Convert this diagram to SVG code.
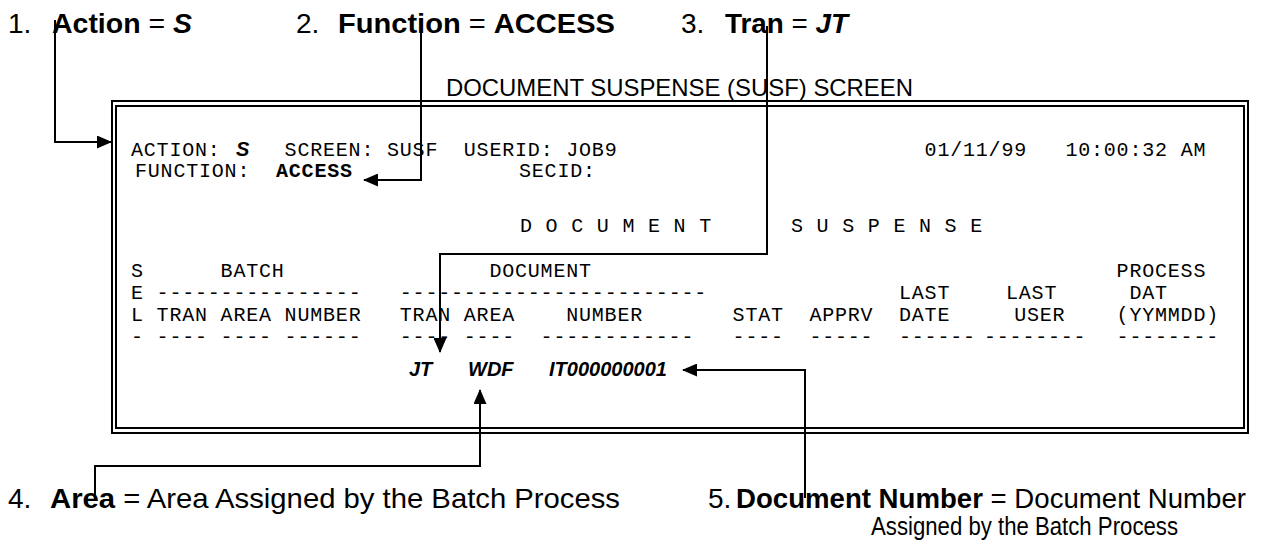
<svg xmlns="http://www.w3.org/2000/svg" width="1266" height="553" viewBox="0 0 1266 553">
<style>
.lbl{font-family:"Liberation Sans",Arial,sans-serif;font-size:28px;fill:#000}
.b{font-weight:bold}
.bi{font-weight:bold;font-style:italic}
.ttl{font-family:"Liberation Sans",Arial,sans-serif;font-size:24px;fill:#000}
.m{font-family:"Liberation Mono","Courier New",monospace;font-size:20px;letter-spacing:0.8px;fill:#000}
.mb{font-family:"Liberation Mono","Courier New",monospace;font-size:20px;letter-spacing:0.8px;font-weight:bold;fill:#000}
.val{font-family:"Liberation Sans",Arial,sans-serif;font-size:20px;font-weight:bold;font-style:italic;fill:#000}
.frame{fill:none;stroke:#000;stroke-width:2}
.conn{fill:none;stroke:#000;stroke-width:2}
</style>
<defs>
<marker id="ah" markerUnits="userSpaceOnUse" markerWidth="15" markerHeight="13" refX="14" refY="6.5" orient="auto">
<path d="M0,0 L15,6.5 L0,13 Z" fill="#000"/>
</marker>
</defs>
<rect width="1266" height="553" fill="#fff"/>

<g id="label1">
<text class="lbl" x="8" y="33">1.</text>
<text class="lbl" x="52" y="33" textLength="140" lengthAdjust="spacingAndGlyphs"><tspan class="b">Action</tspan> = <tspan class="bi">S</tspan></text>
</g>
<g id="label2">
<text class="lbl" x="296" y="33">2.</text>
<text class="lbl" x="338" y="33" textLength="277" lengthAdjust="spacingAndGlyphs"><tspan class="b">Function</tspan> = <tspan class="b">ACCESS</tspan></text>
</g>
<g id="label3">
<text class="lbl" x="681" y="33">3.</text>
<text class="lbl" x="725" y="33" textLength="123" lengthAdjust="spacingAndGlyphs"><tspan class="b">Tran</tspan> = <tspan class="bi">JT</tspan></text>
</g>

<g id="title">
<text class="ttl" x="446" y="96" textLength="467" lengthAdjust="spacingAndGlyphs">DOCUMENT SUSPENSE (SUSF) SCREEN</text>
</g>

<g id="screen">
<rect class="frame" x="112" y="101" width="1136" height="332"/>
<rect class="frame" x="116" y="106" width="1128" height="322"/>
<text class="m" x="131" y="156">ACTION:</text>
<text class="val" x="236" y="156">S</text>
<text class="m" x="284.6" y="156" xml:space="preserve">SCREEN: SUSF  USERID: JOB9</text>
<text class="m" x="924.6" y="156" xml:space="preserve">01/11/99   10:00:32 AM</text>
<text class="m" x="135" y="177">FUNCTION:</text>
<text class="mb" x="276" y="177">ACCESS</text>
<text class="m" x="519" y="177">SECID:</text>
<text class="m" x="520" y="232" xml:space="preserve">D O C U M E N T</text>
<text class="m" x="791" y="232" xml:space="preserve">S U S P E N S E</text>
<text class="m" x="131" y="277">S</text>
<text class="m" x="220.6" y="277">BATCH</text>
<text class="m" x="489.4" y="277">DOCUMENT</text>
<text class="m" x="1116.6" y="277">PROCESS</text>
<text class="m" x="131" y="299" xml:space="preserve">E ----------------</text>
<text class="m" x="399.8" y="299">------------------------</text>
<text class="m" x="899" y="299">LAST</text>
<text class="m" x="1006" y="299">LAST</text>
<text class="m" x="1129.4" y="299">DAT</text>
<text class="m" x="131" y="321" xml:space="preserve">L TRAN AREA NUMBER</text>
<text class="m" x="399.8" y="321" xml:space="preserve">TRAN AREA</text>
<text class="m" x="566.2" y="321">NUMBER</text>
<text class="m" x="732.6" y="321">STAT</text>
<text class="m" x="809.4" y="321">APPRV</text>
<text class="m" x="899" y="321">DATE</text>
<text class="m" x="1014.2" y="321">USER</text>
<text class="m" x="1116.6" y="321">(YYMMDD)</text>
<text class="m" x="131" y="343" xml:space="preserve">- ---- ---- ------</text>
<text class="m" x="399.8" y="343" xml:space="preserve">---- ----</text>
<text class="m" x="540.6" y="343">------------</text>
<text class="m" x="732.6" y="343">----</text>
<text class="m" x="809.4" y="343">-----</text>
<text class="m" x="899" y="343">------</text>
<text class="m" x="984" y="343">--------</text>
<text class="m" x="1116.6" y="343">--------</text>
<text class="val" x="409" y="376">JT</text>
<text class="val" x="468" y="376">WDF</text>
<text class="val" x="549" y="376">IT000000001</text>
</g>

<g id="label4">
<text class="lbl" x="8" y="508">4.</text>
<text class="lbl" x="50" y="508" textLength="570" lengthAdjust="spacingAndGlyphs"><tspan class="b">Area</tspan> = Area Assigned by the Batch Process</text>
</g>
<g id="label5">
<text class="lbl" x="708" y="508">5.</text>
<text class="lbl" x="736" y="508" textLength="510" lengthAdjust="spacingAndGlyphs"><tspan class="b">Document Number</tspan> = Document Number</text>
<text class="lbl" x="871" y="535" textLength="307" lengthAdjust="spacingAndGlyphs" style="font-size:25px">Assigned by the Batch Process</text>
</g>

<g id="connectors">
<path class="conn" d="M55,20 V142 H111" marker-end="url(#ah)"/>
<path class="conn" d="M421,22 V180 H364" marker-end="url(#ah)"/>
<path class="conn" d="M767,26 V254 H440 V352" marker-end="url(#ah)"/>
<path class="conn" d="M95,498 V466 H480 V390" marker-end="url(#ah)"/>
<path class="conn" d="M805,498 V370 H683" marker-end="url(#ah)"/>
</g>
</svg>
